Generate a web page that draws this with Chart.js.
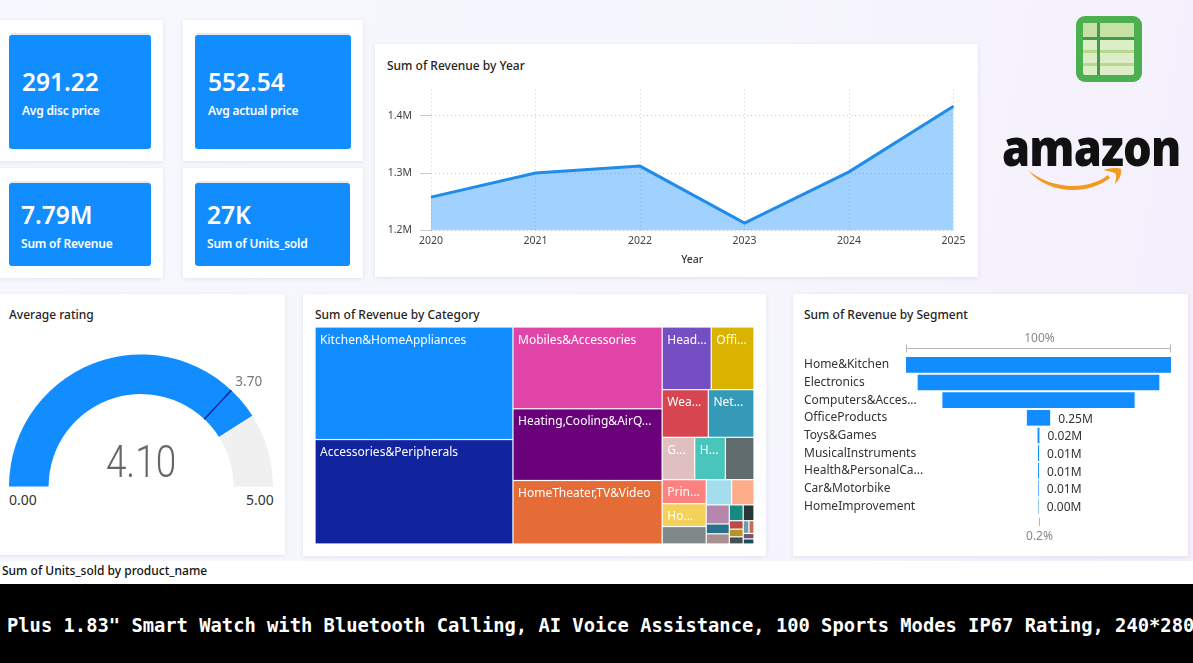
<!DOCTYPE html>
<html lang="en">
<head>
<meta charset="UTF-8">
<title>Amazon Sales Dashboard</title>
<script src="https://cdn.jsdelivr.net/npm/chart.js"></script>
<style>
 html, body { margin: 0; padding: 0; }
 body { width: 1193px; height: 663px; position: relative; overflow: hidden;
  background: linear-gradient(100deg, #f5f8fe 0%, #f6f6fd 60%, #f4eefc 100%);
  font-family: "Noto Sans", sans-serif; color: #252423; }
 .card { position: absolute; background: #fff; box-shadow: 0 1px 4px rgba(90,110,150,.14); }
 .kpi { position: absolute; background: #118dff; border-radius: 3px; color: #fff; box-shadow: 0 -3px 0 -1px #e4eaf1; }
 .kpi b { position: absolute; left: 13px; font-size: 24.5px; font-weight: 600; line-height: 30px; }
 .kpi span { position: absolute; left: 13px; font-size: 12px; font-weight: 600; line-height: 16px; letter-spacing: -.2px; }
 .title { position: absolute; font-size: 12px; line-height: 16px; font-weight: 500; color: #252423; }
 canvas { position: absolute; display: block; }
 .gauge-end { position: absolute; font-size: 14px; line-height: 18px; color: #333; }
 #ticker { position: absolute; left: 0; top: 584px; width: 1193px; height: 79px; background: #000; color: #fff; overflow: hidden;
  font: bold 18.8px/84px "DejaVu Sans Mono", monospace; white-space: nowrap; text-indent: 7px; }
 #strip { position: absolute; left: 0; top: 561px; width: 1193px; height: 23px; background: #fff; }
 #logo { position: absolute; left: 1002px; top: 116px; font: 800 52px/60px "Open Sans", sans-serif; color: #111; letter-spacing: -1px;
  transform: scaleX(.87); transform-origin: left top; }
</style>
</head>
<body>

<!-- KPI tiles -->
<div class="card" style="left:-4px;top:20px;width:167px;height:141px"></div>
<div class="kpi" style="left:9px;top:35px;width:142px;height:114px"><b style="top:32px">291.22</b><span style="top:68px">Avg disc price</span></div>
<div class="card" style="left:183px;top:20px;width:180px;height:141px"></div>
<div class="kpi" style="left:195px;top:35px;width:156px;height:114px"><b style="top:32px">552.54</b><span style="top:68px">Avg actual price</span></div>
<div class="card" style="left:-4px;top:168px;width:167px;height:110px"></div>
<div class="kpi" style="left:9px;top:183px;width:142px;height:83px"><b style="left:12px;top:17px">7.79M</b><span style="left:12px;top:53px">Sum of Revenue</span></div>
<div class="card" style="left:183px;top:168px;width:180px;height:110px"></div>
<div class="kpi" style="left:195px;top:183px;width:155px;height:83px"><b style="left:12px;top:17px">27K</b><span style="left:12px;top:53px">Sum of Units_sold</span></div>

<!-- revenue by year -->
<div class="card" style="left:375px;top:44px;width:603px;height:233px"></div>
<div class="title" style="left:387px;top:58px">Sum of Revenue by Year</div>
<canvas id="yearChart" width="590" height="191" style="left:380px;top:75px"></canvas>

<!-- gauge -->
<div class="card" style="left:-4px;top:294px;width:289px;height:261px"></div>
<div class="title" style="left:9px;top:307px">Average rating</div>
<canvas id="gaugeChart" width="300" height="133" style="left:-9px;top:354px"></canvas>
<div class="gauge-end" style="left:9px;top:491px">0.00</div>
<div class="gauge-end" style="left:246px;top:491px">5.00</div>

<!-- category treemap -->
<div class="card" style="left:303px;top:294px;width:463px;height:262px"></div>
<div class="title" style="left:315px;top:307px">Sum of Revenue by Category</div>
<canvas id="treeChart" width="439" height="217" style="left:315px;top:327px"></canvas>

<!-- segment funnel -->
<div class="card" style="left:793px;top:294px;width:395px;height:262px"></div>
<div class="title" style="left:804px;top:307px">Sum of Revenue by Segment</div>
<canvas id="funnelChart" width="380" height="220" style="left:800px;top:326px"></canvas>

<!-- sheet icon and logo -->
<svg style="position:absolute;left:1076px;top:16px" width="66" height="66" viewBox="0 0 66 66">
 <rect width="66" height="66" rx="9" fill="#4caf50"/>
 <rect x="7" y="7" width="51" height="52" rx="2" fill="#dcedc8"/>
 <rect x="7" y="7" width="51" height="15" fill="#c5e1a5"/>
 <rect x="7" y="34" width="51" height="3" fill="#b5d98f"/>
 <rect x="7" y="47" width="51" height="3" fill="#b5d98f"/>
 <rect x="21" y="7" width="3" height="52" fill="#459a48"/>
 <rect x="7" y="21" width="51" height="3" fill="#459a48"/>
</svg>
<div id="logo">amazon</div>
<svg style="position:absolute;left:1025px;top:160px" width="100" height="30" viewBox="0 0 100 30">
 <path d="M3 10 C22 27 60 33 83 15 L85 18 C62 36 22 34 3 10 Z" fill="#f39a1e"/>
 <path d="M78 10 C84 8 92 7 96 9 C97 14 94 20 90 24 C91 19 92 15 90 13 C87 12 83 11 78 10 Z" fill="#f39a1e"/>
</svg>

<div id="strip"></div>
<div class="title" style="left:2px;top:563px;color:#111">Sum of Units_sold by product_name</div>
<div id="ticker">Plus 1.83" Smart Watch with Bluetooth Calling, AI Voice Assistance, 100 Sports Modes IP67 Rating, 240*280 Pixel</div>

<script>
// revenue per year, in millions
const years = ['2020', '2021', '2022', '2023', '2024', '2025'];
const yearRevenue = [1.258, 1.300, 1.312, 1.213, 1.302, 1.416];
const yearTicks = [1.2, 1.3, 1.4];

// average rating gauge
const ratingValue = 4.10;
const ratingTarget = 3.70;
const ratingMax = 5;

// revenue per category, in millions, largest first (tail categories have no room for a label)
const categoryLabels = ['Kitchen&HomeAppliances', 'Accessories&Peripherals', 'Mobiles&Accessories', 'Heating,Cooling&AirQ...',
 'HomeTheater,TV&Video', 'Head...', 'Offi...', 'Wea...', 'Net...', 'G...', 'H...', '', 'Prin...', 'Ho...', '', '', '',
 '', '', '', '', '', '', '', '', '', '', '', ''];
const categoryRevenue = [1.822, 1.691, 0.998, 0.875, 0.775, 0.2515, 0.2191, 0.180, 0.178, 0.1127, 0.1064, 0.0989, 0.0866, 0.0824, 0.0630,
 0.0523, 0.0461, 0.0360, 0.0186, 0.0192, 0.0180, 0.0140, 0.0096, 0.0087, 0.0082, 0.0060, 0.0053, 0.0048, 0.0045];
const categoryColors = ['#118dff', '#12239e', '#e044a7', '#6b007b', '#e66c37', '#744ec2', '#d9b300', '#d64550', '#3599b8',
 '#dfbfbf', '#4ac5bb', '#5f6b6d', '#fb8281', '#f4d25a', '#7f898a', '#a4ddee', '#fdab89', '#b687ac', '#28738a', '#a78f8f',
 '#168980', '#293537', '#bb4a4a', '#b59525', '#475052', '#6a9fb0', '#bd7150', '#7b4f71', '#1b4d5c'];
// how many categories share each treemap strip
const treeStrips = [2, 3, 2, 2, 3, 3, 2, 3, 2, 3, 2, 2];

// revenue per segment, in millions
const segmentLabels = ['Home&Kitchen', 'Electronics', 'Computers&Acces...', 'OfficeProducts', 'Toys&Games',
 'MusicalInstruments', 'Health&PersonalCa...', 'Car&Motorbike', 'HomeImprovement'];
const segmentRevenue = [2.84, 2.59, 2.06, 0.25, 0.02, 0.012, 0.010, 0.007, 0.0049];

const uiFont = '"Noto Sans", sans-serif';
Chart.defaults.font.family = uiFont;
Chart.defaults.animation = false;
Chart.defaults.responsive = false;
Chart.defaults.devicePixelRatio = 1;
Chart.defaults.plugins.legend.display = false;
Chart.defaults.plugins.tooltip.enabled = false;

// area line chart
new Chart(document.getElementById('yearChart'), {
 type: 'line',
 data: {
  labels: years,
  datasets: [{
   data: yearRevenue,
   borderColor: '#1f8cec',
   borderWidth: 3,
   backgroundColor: 'rgba(17,141,255,.4)',
   fill: 'start',
   pointRadius: 0,
   tension: 0
  }]
 },
 options: {
  layout: { padding: { top: 0, right: 16.5 } },
  scales: {
   x: {
    offset: false,
    grid: { color: '#cbcbcb', tickLength: 0 },
    border: { display: false, dash: [1, 3] },
    ticks: { color: '#444', font: { size: 10.5 }, padding: 4, maxRotation: 0, autoSkip: false },
    title: { display: true, text: 'Year', color: '#333', font: { size: 10.5, weight: 500 }, padding: { top: 4, bottom: 0 } },
    afterFit: s => { s.height = 35.5; }
   },
   y: {
    min: 1.2,
    max: 1.4456,
    grid: { color: '#cbcbcb', tickLength: 11 },
    border: { display: false, dash: [1, 3] },
    ticks: {
     color: '#444',
     font: { size: 10.5 },
     padding: 8,
     includeBounds: false,
     stepSize: 0.1,
     callback: v => yearTicks.some(t => Math.abs(t - v) < 1e-6) ? v.toFixed(1) + 'M' : ''
    },
    afterFit: s => { s.width = 51; }
   }
  }
 }
});

// target tick, its label and the big reading on the gauge
const gaugeTarget = {
 id: 'gaugeTarget',
 afterDatasetsDraw(chart) {
  const arc = chart.getDatasetMeta(0).data[0];
  const a = Math.PI + Math.PI * ratingTarget / ratingMax;
  const ctx = chart.ctx;
  ctx.save();
  ctx.strokeStyle = '#12239e';
  ctx.lineWidth = 1.5;
  ctx.beginPath();
  ctx.moveTo(arc.x + Math.cos(a) * arc.innerRadius, arc.y + Math.sin(a) * arc.innerRadius);
  ctx.lineTo(arc.x + Math.cos(a) * arc.outerRadius, arc.y + Math.sin(a) * arc.outerRadius);
  ctx.stroke();
  ctx.fillStyle = '#777';
  ctx.font = '13.5px ' + uiFont;
  ctx.textBaseline = 'middle';
  ctx.fillText(ratingTarget.toFixed(2), arc.x + Math.cos(a) * arc.outerRadius + 4, arc.y + Math.sin(a) * arc.outerRadius - 8);
  ctx.fillStyle = '#666';
  ctx.font = '300 45px Roboto, sans-serif';
  ctx.textAlign = 'center';
  ctx.translate(arc.x, arc.y - 21);
  ctx.scale(0.82, 1);
  ctx.fillText(ratingValue.toFixed(2), 0, 0);
  ctx.restore();
 }
};

new Chart(document.getElementById('gaugeChart'), {
 type: 'doughnut',
 data: {
  datasets: [{
   data: [ratingValue, ratingMax - ratingValue],
   backgroundColor: ['#118dff', '#f1f0f0'],
   borderWidth: 0
  }]
 },
 options: {
  rotation: -90,
  circumference: 180,
  cutout: '70%',
  layout: { padding: { left: 18, right: 18 } }
 },
 plugins: [gaugeTarget]
});

// slice-and-dice along the strips, always cutting off the shorter side; returns one box per value
function layoutStrips(values, strips, x, y, w, h) {
 const total = values.reduce((a, b) => a + b, 0);
 const k = w * h / total;
 const boxes = [];
 let i = 0;
 strips.forEach(n => {
  const row = values.slice(i, i + n).map(v => v * k);
  const sum = row.reduce((a, b) => a + b, 0);
  if (w >= h) {
   const cw = sum / h;
   let cy = y;
   row.forEach(a => { boxes.push({ x0: x, x1: x + cw, y0: cy, y1: cy + a / cw }); cy += a / cw; });
   x += cw; w -= cw;
  } else {
   const ch = sum / w;
   let cx = x;
   row.forEach(a => { boxes.push({ x0: cx, x1: cx + a / ch, y0: y, y1: y + ch }); cx += a / ch; });
   y += ch; h -= ch;
  }
  i += n;
 });
 return boxes;
}

// treemap cells, painted through the chart's x and y scales
const treeAspect = 439 / 217;
const treeBoxes = layoutStrips(categoryRevenue, treeStrips, 0, 0, treeAspect, 1);

const treeCells = {
 id: 'treeCells',
 afterDraw(chart) {
  const { ctx, scales: { x, y } } = chart;
  ctx.save();
  ctx.font = '12px ' + uiFont;
  ctx.textBaseline = 'middle';
  treeBoxes.forEach((b, i) => {
   const l = x.getPixelForValue(b.x0) + 0.6;
   const r = x.getPixelForValue(b.x1) - 0.6;
   const t = y.getPixelForValue(b.y0) + 0.6;
   const bt = y.getPixelForValue(b.y1) - 0.6;
   ctx.fillStyle = categoryColors[i];
   ctx.fillRect(l, t, r - l, bt - t);
   if (categoryLabels[i]) {
    ctx.fillStyle = '#fff';
    ctx.fillText(categoryLabels[i], l + 4.5, t + 12.5);
   }
  });
  ctx.restore();
 }
};

new Chart(document.getElementById('treeChart'), {
 type: 'scatter',
 data: { datasets: [{ data: [] }] },
 options: {
  scales: {
   x: { display: false, min: 0, max: treeAspect },
   y: { display: false, min: 0, max: 1, reverse: true }
  }
 },
 plugins: [treeCells]
});

// funnel extras: value labels beside narrow bars and the percentage brackets
const funnelMarks = {
 id: 'funnelMarks',
 afterDraw(chart) {
  const { ctx, scales: { x, y } } = chart;
  const first = segmentRevenue[0];
  const last = segmentRevenue[segmentRevenue.length - 1];
  ctx.save();
  ctx.font = '12px ' + uiFont;
  ctx.textBaseline = 'middle';
  segmentRevenue.forEach((v, i) => {
   const right = x.getPixelForValue(v / 2);
   if (right - x.getPixelForValue(-v / 2) < 60) {
    ctx.fillStyle = '#333';
    ctx.fillText(v.toFixed(2) + 'M', right + 8, y.getPixelForValue(i) + 1.5);
   }
  });

  const topY = Math.round(y.top - 8) + 0.5;
  const l = Math.round(x.getPixelForValue(-first / 2)) + 0.5;
  const r = Math.round(x.getPixelForValue(first / 2)) - 0.5;
  ctx.strokeStyle = '#b5b5b5';
  ctx.lineWidth = 1;
  ctx.beginPath();
  ctx.moveTo(l, topY - 4); ctx.lineTo(l, topY + 4);
  ctx.moveTo(l, topY); ctx.lineTo(r, topY);
  ctx.moveTo(r, topY - 4); ctx.lineTo(r, topY + 4);
  const mid = Math.round(x.getPixelForValue(0)) + 0.5;
  ctx.moveTo(mid, y.bottom + 3); ctx.lineTo(mid, y.bottom + 11);
  ctx.stroke();

  ctx.fillStyle = '#888';
  ctx.textAlign = 'center';
  ctx.fillText('100%', mid, topY - 10);
  ctx.fillText((last / first * 100).toFixed(1) + '%', mid, y.bottom + 22);
  ctx.restore();
 }
};

new Chart(document.getElementById('funnelChart'), {
 type: 'bar',
 data: {
  labels: segmentLabels,
  datasets: [{
   data: segmentRevenue.map(v => [-v / 2, v / 2]),
   backgroundColor: '#118dff',
   barPercentage: 0.886,
   categoryPercentage: 1
  }]
 },
 options: {
  indexAxis: 'y',
  layout: { padding: { left: 4, top: 30, right: 9, bottom: 31 } },
  scales: {
   x: { display: false, min: -segmentRevenue[0] / 2, max: segmentRevenue[0] / 2 },
   y: {
    grid: { display: false, drawTicks: false },
    border: { display: false },
    // mirrored ticks are not clipped to the axis box, so the long names can run under the bars
    ticks: { mirror: true, padding: -102, color: '#333', font: { size: 12 }, autoSkip: false },
    afterFit: s => { s.width = 102; }
   }
  }
 },
 plugins: [funnelMarks]
});
</script>
</body>
</html>
